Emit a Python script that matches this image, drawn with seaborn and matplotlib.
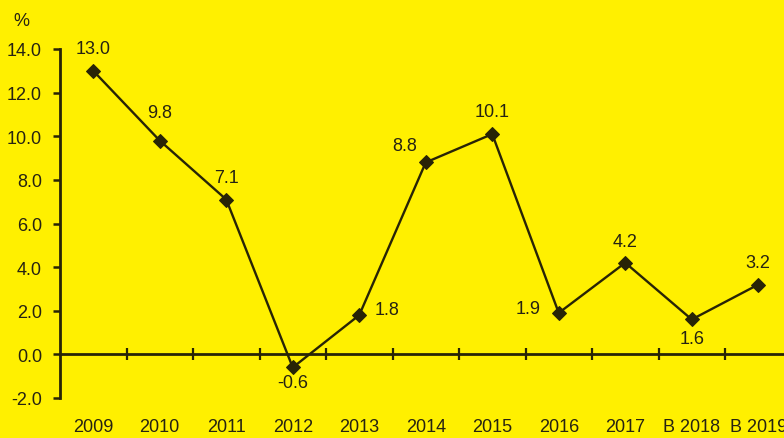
import matplotlib
matplotlib.use("Agg")
import matplotlib.pyplot as plt
import seaborn as sns
import pandas as pd
from matplotlib.ticker import FixedLocator, NullFormatter

# Growth series, per cent
years = ["2009", "2010", "2011", "2012", "2013", "2014", "2015",
         "2016", "2017", "В 2018", "В 2019"]
values = [13.0, 9.8, 7.1, -0.6, 1.8, 8.8, 10.1, 1.9, 4.2, 1.6, 3.2]
y_ticks = [-2.0, 0.0, 2.0, 4.0, 6.0, 8.0, 10.0, 12.0, 14.0]

# label offsets in points (dx, dy) relative to each marker
label_offsets = [(0, 16), (0, 20), (0, 16), (0, -11), (20, 4), (-15, 12),
                 (0, 16), (-22, 3), (0, 15), (0, -14), (0, 16)]

BG = "#FFF000"
INK = "#282406"
TXT = "#262312"

sns.set_theme(style="white")
plt.rcParams["font.family"] = ["Liberation Sans", "DejaVu Sans"]

df = pd.DataFrame({"year": years, "value": values})
df["pos"] = range(len(years))

fig = plt.figure(figsize=(7.84, 4.39), dpi=100, facecolor=BG)
ax = fig.add_axes([60 / 784, 40 / 439, 731.5 / 784, 349 / 439])
ax.set_facecolor(BG)

sns.lineplot(data=df, x="pos", y="value", ax=ax, color=INK, linewidth=1.7,
             marker="D", markersize=7.5, markeredgecolor=INK,
             markerfacecolor=INK, sort=False, clip_on=False)

ax.set_xlim(-0.5, len(years) - 0.5)
ax.set_ylim(-2, 14)
ax.set_yticks(y_ticks)
ax.set_yticklabels([f"{v:.1f}" for v in y_ticks], fontsize=13, color=TXT)

# category axis sits on zero; boundary ticks cross the line
for s in ["top", "right"]:
    ax.spines[s].set_visible(False)
ax.spines["bottom"].set_position(("data", 0))
ax.spines["bottom"].set_color(INK)
ax.spines["bottom"].set_linewidth(2.0)
ax.spines["left"].set_color(INK)
ax.spines["left"].set_linewidth(2.0)

ax.set_xticks(df["pos"])
ax.set_xticklabels(years, fontsize=13, color=TXT)
ax.xaxis.set_minor_locator(FixedLocator([p + 0.5 for p in df["pos"][:-1]]))
ax.xaxis.set_minor_formatter(NullFormatter())
ax.tick_params(axis="x", which="major", length=0, pad=46)
ax.tick_params(axis="x", which="minor", length=8.5, width=1.6,
               direction="inout", color=INK, bottom=True)
ax.tick_params(axis="y", which="major", length=5, width=1.8,
               direction="out", color=INK, pad=8, left=True)
ax.set_xlabel("")
ax.set_ylabel("")
ax.grid(False)

for (x, y), (dx, dy) in zip(zip(df["pos"], df["value"]), label_offsets):
    ax.annotate(f"{y:.1f}", (x, y), xytext=(dx, dy), textcoords="offset points",
                ha="center", va="center", fontsize=13, color=TXT,
                annotation_clip=False)

fig.text(21 / 784, 1 - 21 / 439, "%", ha="center", va="center",
         fontsize=13, color=TXT)

fig.savefig("out.png", dpi=100, facecolor=BG)
